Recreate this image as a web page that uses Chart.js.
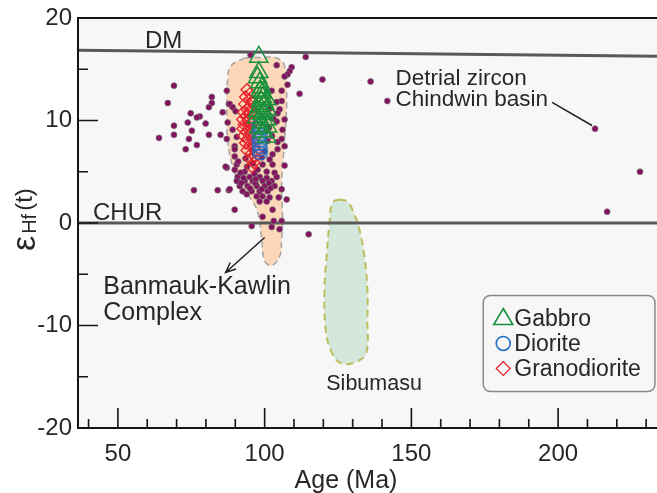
<!DOCTYPE html>
<html>
<head>
<meta charset="utf-8">
<script src="https://cdn.jsdelivr.net/npm/chart.js@4"></script>
<style>
  html, body { margin: 0; padding: 0; background: #fff; }
</style>
</head>
<body>
<canvas id="chart" width="657" height="493"></canvas>
<script>
// axis limits and ticks
const xMin = 36.4, xMax = 233.7, yMin = -20, yMax = 20;
const xTicks = [50, 100, 150, 200];
const yTicks = [-20, -10, 0, 10, 20];

// reference lines (age, eHf)
const dmLine = [[36.4, 16.86], [233.7, 16.27]];
const churLine = [[36.4, 0], [233.7, 0]];

// outlines of the two fields
const banmaukField = [
  [93.2, 16.1], [98.3, 16.15], [104.1, 16.1], [106.8, 15.3], [107.5, 12.0], [106.8, 8.1],
  [105.8, 3.95], [106.1, 0.63], [105.8, -1.6], [105.1, -3.27], [102.4, -4.15], [100.0, -3.7],
  [99.0, -1.6], [97.6, 1.1], [94.9, 2.5], [91.5, 3.75], [89.1, 5.5], [87.4, 8.1],
  [87.1, 12.0], [87.4, 14.0], [88.4, 15.3], [93.2, 16.1]
];
const sibumasuField = [
  [125.5, 2.29], [128.2, 2.1], [129.9, 1.3], [132.3, -0.63], [134.0, -3.27], [135.0, -6.5],
  [135.0, -9.7], [134.7, -12.6], [131.6, -13.5], [126.2, -13.7], [122.8, -12.6], [120.8, -10.4],
  [120.4, -6.5], [121.1, -3.27], [122.1, 0.05], [123.1, 2.0], [125.5, 2.29]
];

// detrital zircon, Chindwin basin
const zircon = [
  [69.1, 13.4], [67.0, 11.7], [82.0, 12.3], [82.0, 11.7], [81.0, 11.3], [74.8, 10.7], [77.9, 10.4],
  [76.9, 10.3], [73.8, 9.8], [79.9, 9.7], [69.1, 9.5], [75.2, 9.0], [69.1, 8.6], [64.0, 8.3],
  [74.2, 8.2], [81.0, 8.6], [85.0, 8.6], [87.1, 8.2], [73.1, 7.2], [76.9, 7.6], [87.1, 5.4],
  [75.9, 3.2], [84.0, 3.2], [87.8, 3.2], [89.8, 1.3], [95.6, -0.3], [87.1, 12.9], [87.8, 11.6],
  [95.2, 16.4], [114.0, 16.2], [119.7, 14.0], [111.9, 12.6], [104.1, 15.4], [109.2, 15.2],
  [108.5, 14.8], [107.8, 14.5], [106.8, 14.3], [107.8, 13.5], [102.4, 12.9], [105.8, 12.9],
  [88.1, 11.6], [105.8, 11.9], [104.1, 11.8], [89.1, 11.3], [90.1, 10.9], [105.1, 11.1],
  [104.4, 10.7], [85.7, 10.8], [87.4, 9.8], [89.1, 9.1], [106.8, 10.1], [104.1, 9.9], [106.1, 9.1],
  [90.5, 8.4], [105.8, 8.2], [104.4, 7.9], [89.8, 7.5], [106.8, 7.5], [136.1, 13.8], [141.8, 11.9],
  [212.6, 9.2], [227.9, 5.0], [216.7, 1.1], [115.0, -1.1],
  [89.8, 7.2], [89.8, 6.5], [104.4, 7.2], [102.7, 6.7], [101.7, 6.2], [102.7, 5.7], [86.7, 5.5],
  [90.5, 5.7], [99.0, 6.4], [99.3, 5.7], [106.8, 5.6], [89.8, 5.2], [93.2, 5.0], [97.6, 5.2],
  [100.7, 5.0], [103.4, 4.9], [104.1, 4.5], [90.8, 4.5], [94.9, 4.5], [98.3, 4.5], [100.7, 4.4],
  [90.5, 4.1], [93.2, 4.1], [95.9, 4.1], [99.3, 4.1], [102.4, 4.1], [91.5, 3.6], [94.2, 3.6],
  [97.3, 3.6], [100.0, 3.6], [103.4, 3.6], [105.8, 3.3], [88.1, 3.3], [92.5, 3.1], [95.6, 3.1],
  [98.3, 3.1], [101.0, 3.1], [97.3, 2.6], [99.3, 2.6], [101.7, 2.5], [93.9, 2.8], [98.3, 2.1],
  [100.7, 2.1], [104.8, 2.5], [107.5, 2.3], [102.7, 1.3], [99.3, 0.6], [105.8, 0.2], [103.1, 0.2],
  [102.4, -0.4], [105.1, -0.6],
  [91.8, 4.9], [96.5, 4.8], [92.0, 3.9], [96.8, 3.9], [101.5, 3.9], [92.8, 4.4], [97.0, 4.3],
  [95.0, 3.4], [99.0, 3.3], [102.0, 3.4], [94.0, 5.5], [96.0, 5.8], [91.0, 6.0], [93.5, 6.3],
  [100.0, 7.0], [101.0, 8.0], [102.5, 8.5], [103.0, 10.2], [102.0, 11.2], [101.5, 9.3]
];

// this study
const granodiorite = [
  [94.0, 13.0], [95.0, 12.6], [93.5, 12.3], [94.8, 12.0], [93.2, 11.6], [95.3, 11.4], [94.0, 11.1],
  [92.8, 10.8], [95.0, 10.7], [93.6, 10.4], [92.5, 10.1], [94.5, 10.0], [96.0, 9.8], [93.0, 9.6],
  [94.8, 9.4], [92.6, 9.2], [96.2, 9.1], [93.8, 8.9], [95.3, 8.7], [92.8, 8.5], [94.2, 8.2],
  [96.0, 8.0], [93.5, 7.8], [95.0, 7.6], [96.5, 7.4], [94.0, 7.1], [95.6, 6.8], [96.8, 6.5],
  [95.2, 6.2], [96.3, 5.9], [95.6, 5.5], [97.0, 7.0], [96.8, 10.5], [95.8, 11.9]
];
const diorite = [
  [98.4, 9.7], [98.1, 9.4], [98.6, 9.1], [98.2, 8.8], [98.5, 8.5], [98.0, 8.2], [98.4, 7.9],
  [98.2, 7.6], [98.5, 7.3], [98.3, 7.0], [98.4, 6.7]
];
const gabbro = [
  [98.0, 16.2], [98.0, 14.7], [97.6, 14.2], [98.3, 13.7], [99.0, 13.2], [99.3, 12.7], [99.3, 12.25],
  [100.7, 12.05], [100.0, 11.6], [98.3, 11.4], [100.7, 11.1], [97.6, 10.9], [99.0, 10.6],
  [100.7, 10.1], [97.3, 10.3], [99.0, 9.8], [101.0, 9.4], [98.0, 9.3], [99.3, 8.9], [100.7, 8.4],
  [98.6, 12.9], [99.8, 10.8], [98.8, 11.9]
];

const legendItems = ['Gabbro', 'Diorite', 'Granodiorite'];

const notes = [
  { text: 'DM', x: 59.2, y: 17.12, size: 24 },
  { text: 'CHUR', x: 41.5, y: 0.34, size: 24 },
  { text: 'Detrial zircon', x: 144.6, y: 13.51, size: 22.5 },
  { text: 'Chindwin basin', x: 144.6, y: 11.37, size: 22.5 },
  { text: 'Banmauk-Kawlin', x: 45.0, y: -6.88, size: 25 },
  { text: 'Complex', x: 45.0, y: -9.51, size: 25 },
  { text: 'Sibumasu', x: 121.0, y: -16.34, size: 21.5 }
];

const FONT = '"Liberation Sans", Arial, sans-serif';
const TXT = '#2a2626';
const GREEN = '#17913b', BLUE = '#1f6dc4', RED = '#e6202a';

const pts = arr => arr.map(([x, y]) => ({ x, y }));

function ellipseMark(w, h, color) {
  const c = document.createElement('canvas');
  c.width = w + 3; c.height = h + 3;
  const g = c.getContext('2d');
  g.strokeStyle = color;
  g.lineWidth = 1.4;
  g.beginPath();
  g.ellipse(c.width / 2, c.height / 2, w / 2, h / 2, 0, 0, Math.PI * 2);
  g.stroke();
  return c;
}

const decor = {
  id: 'decor',
  beforeDraw(chart) {
    const { ctx, chartArea: a } = chart;
    ctx.save();
    ctx.fillStyle = '#f7f7f7';
    ctx.fillRect(a.left, a.top, a.right - a.left, a.bottom - a.top);
    ctx.restore();
  },
  afterDraw(chart) {
    const { ctx, chartArea: a, scales: { x, y } } = chart;
    ctx.save();

    // frame
    ctx.strokeStyle = '#151515';
    ctx.lineWidth = 2;
    ctx.beginPath();
    ctx.moveTo(a.right, a.top); ctx.lineTo(a.left, a.top);
    ctx.lineTo(a.left, a.bottom); ctx.lineTo(a.right, a.bottom);
    ctx.stroke();

    // inward ticks
    ctx.lineWidth = 1.6;
    ctx.beginPath();
    for (let v = 40; v <= xMax; v += 10) {
      const px = x.getPixelForValue(v);
      const len = xTicks.includes(v) ? 20 : 9;
      ctx.moveTo(px, a.bottom); ctx.lineTo(px, a.bottom - len);
    }
    for (let v = -15; v < yMax; v += 5) {
      const py = y.getPixelForValue(v);
      const len = yTicks.includes(v) ? 20 : 10;
      ctx.moveTo(a.left, py); ctx.lineTo(a.left + len, py);
    }
    ctx.stroke();

    // notes
    ctx.fillStyle = TXT;
    ctx.textBaseline = 'alphabetic';
    ctx.textAlign = 'left';
    notes.forEach(n => {
      ctx.font = n.size + 'px ' + FONT;
      ctx.fillText(n.text, x.getPixelForValue(n.x), y.getPixelForValue(n.y));
    });

    // leader to the far zircon, arrow to the field
    ctx.strokeStyle = '#222';
    ctx.lineWidth = 1.5;
    ctx.beginPath();
    ctx.moveTo(x.getPixelForValue(197.95), y.getPixelForValue(11.76));
    ctx.lineTo(x.getPixelForValue(211.55), y.getPixelForValue(9.51));
    ctx.stroke();

    const x0 = x.getPixelForValue(100.0), y0 = y.getPixelForValue(-1.41);
    const x1 = x.getPixelForValue(86.7), y1 = y.getPixelForValue(-4.83);
    const ang = Math.atan2(y1 - y0, x1 - x0);
    ctx.beginPath();
    ctx.moveTo(x0, y0); ctx.lineTo(x1, y1);
    ctx.moveTo(x1 - 11 * Math.cos(ang - 0.4), y1 - 11 * Math.sin(ang - 0.4));
    ctx.lineTo(x1, y1);
    ctx.lineTo(x1 - 11 * Math.cos(ang + 0.4), y1 - 11 * Math.sin(ang + 0.4));
    ctx.stroke();

    // legend box
    const L = x.getPixelForValue(174.5), T = y.getPixelForValue(-7.07);
    const R = x.getPixelForValue(233.0), B = y.getPixelForValue(-16.44);
    ctx.strokeStyle = '#8a8a8a';
    ctx.lineWidth = 1.5;
    ctx.beginPath();
    ctx.roundRect(L, T, R - L, B - T, 7);
    ctx.stroke();

    ctx.lineWidth = 1.6;
    // triangle
    let cx = L + 20, cy = T + 22;
    ctx.strokeStyle = GREEN;
    ctx.beginPath();
    ctx.moveTo(cx, cy - 9); ctx.lineTo(cx + 9.5, cy + 7); ctx.lineTo(cx - 9.5, cy + 7); ctx.closePath();
    ctx.stroke();
    // circle
    cy = T + 48;
    ctx.strokeStyle = BLUE;
    ctx.beginPath();
    ctx.arc(cx, cy, 7, 0, Math.PI * 2);
    ctx.stroke();
    // diamond
    cy = T + 73;
    ctx.strokeStyle = RED;
    ctx.lineWidth = 1.2;
    ctx.beginPath();
    ctx.moveTo(cx, cy - 7); ctx.lineTo(cx + 7, cy); ctx.lineTo(cx, cy + 7); ctx.lineTo(cx - 7, cy); ctx.closePath();
    ctx.stroke();

    ctx.fillStyle = TXT;
    ctx.font = '23px ' + FONT;
    legendItems.forEach((t, i) => ctx.fillText(t, L + 31, T + 31 + i * 25));

    // x title
    ctx.textAlign = 'center';
    ctx.font = '25px ' + FONT;
    ctx.fillText('Age (Ma)', 346, 488);

    // y title: eHf(t)
    ctx.save();
    ctx.translate(35, 251);
    ctx.rotate(-Math.PI / 2);
    ctx.textAlign = 'left';
    ctx.font = '34px ' + FONT;
    ctx.fillText('ε', 0, 0);
    let w = ctx.measureText('ε').width;
    ctx.font = '20px ' + FONT;
    ctx.fillText('Hf', w + 2, 1);
    w += 2 + ctx.measureText('Hf').width;
    ctx.font = '24px ' + FONT;
    ctx.fillText('(t)', w + 3, -3);
    ctx.restore();

    ctx.restore();
  }
};

const ctx = document.getElementById('chart').getContext('2d');

new Chart(ctx, {
  type: 'scatter',
  data: {
    datasets: [
      {
        label: 'Gabbro', data: pts(gabbro), order: 1,
        pointStyle: 'triangle', pointRadius: 10.5, borderColor: GREEN, borderWidth: 1.5,
        backgroundColor: 'transparent'
      },
      {
        label: 'Diorite', data: pts(diorite), order: 2,
        pointStyle: ellipseMark(14, 10, BLUE), pointRadius: 6
      },
      {
        label: 'Granodiorite', data: pts(granodiorite), order: 3,
        pointStyle: 'rectRot', pointRadius: 6, borderColor: RED, borderWidth: 1.3,
        backgroundColor: 'transparent'
      },
      {
        label: 'Detrital zircon', data: pts(zircon), order: 4,
        pointRadius: 3, backgroundColor: '#84125f', borderColor: 'rgba(120,120,120,0.8)', borderWidth: 0.8
      },
      {
        label: 'DM', data: pts(dmLine), order: 6, showLine: true,
        pointRadius: 0, borderColor: '#595959', borderWidth: 3
      },
      {
        label: 'CHUR', data: pts(churLine), order: 6, showLine: true,
        pointRadius: 0, borderColor: '#595959', borderWidth: 3
      },
      {
        label: 'Banmauk-Kawlin', data: pts(banmaukField), order: 9, showLine: true,
        pointRadius: 0, tension: 0.4, fill: 'shape', backgroundColor: '#fcd8b9',
        borderColor: '#a3a3a3', borderWidth: 1.5, borderDash: [6, 4]
      },
      {
        label: 'Sibumasu', data: pts(sibumasuField), order: 9, showLine: true,
        pointRadius: 0, tension: 0.4, fill: 'shape', backgroundColor: '#d3e7da',
        borderColor: '#bcbd5c', borderWidth: 2, borderDash: [7, 5]
      }
    ]
  },
  options: {
    responsive: false,
    animation: false,
    layout: { autoPadding: false, padding: { top: 18, right: 0, left: 0, bottom: 0 } },
    plugins: {
      legend: { display: false },
      tooltip: { enabled: false }
    },
    scales: {
      x: {
        type: 'linear', min: xMin, max: xMax,
        grid: { display: false, drawTicks: false },
        border: { display: false },
        ticks: { color: TXT, font: { size: 24, family: FONT }, padding: 12, maxRotation: 0 },
        afterBuildTicks: s => { s.ticks = xTicks.map(v => ({ value: v })); },
        afterFit: s => { s.height = 65; s.paddingLeft = 0; s.paddingRight = 0; }
      },
      y: {
        type: 'linear', min: yMin, max: yMax,
        grid: { display: false, drawTicks: false },
        border: { display: false },
        ticks: { color: TXT, font: { size: 24, family: FONT }, padding: 6 },
        afterBuildTicks: s => { s.ticks = yTicks.map(v => ({ value: v })); },
        afterFit: s => { s.width = 78; s.paddingTop = 0; s.paddingBottom = 0; }
      }
    }
  },
  plugins: [decor]
});
</script>
</body>
</html>
